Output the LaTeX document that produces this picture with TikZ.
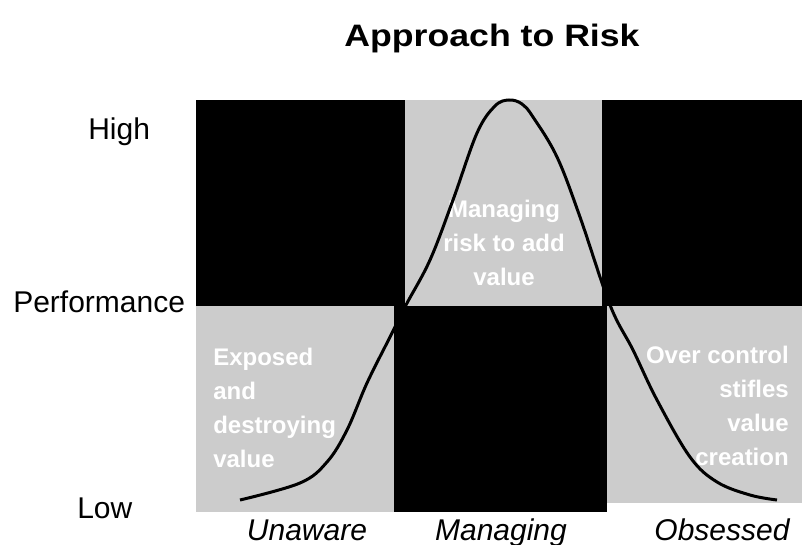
\documentclass[tikz,border=0pt]{standalone}
\usepackage{fontspec}
\setmainfont{Liberation Sans}
\usepackage{graphicx}
\usetikzlibrary{positioning}
\definecolor{cellgray}{RGB}{204,204,204}
\tikzset{blackbox/.style={
            fill=black
        },
        graybox/.style={
            fill=cellgray
        },
        celltext/.style={
            text=white,
            font=\fontsize{18}{25.5}\selectfont\bfseries,
            inner sep=0pt
        },
        axislabel/.style={
            font=\fontsize{22.5}{27}\selectfont,
            inner sep=0pt
        },
        phaselabel/.style={
            font=\fontsize{22.5}{27}\selectfont\itshape,
            inner sep=0pt
        },
        bell/.style={
            line width=2.25pt
        }
    }

\begin{document}
\begin{tikzpicture}[x=0.75pt,y=-0.75pt]
        \useasboundingbox (0,0) rectangle (802,545);
        % top row
        \fill[blackbox] (196,100) rectangle (405,306);
        \fill[graybox] (405,100) rectangle (602,306);
        \fill[blackbox] (602,100) rectangle (802,306);
        % bottom row
        \fill[graybox] (196,306) rectangle (394,512);
        \fill[blackbox] (394,306) rectangle (607,512);
        \fill[graybox] (607,306) rectangle (802,503);
        % title and axis
        \node[anchor=base, font=\fontsize{23.25}{28}\selectfont\bfseries, inner sep=0pt] (title) at (492,47) {\scalebox{1.15}[1]{Approach to Risk}};
        \node[axislabel, anchor=base west] (high) at (88,140) {High};
        \node[axislabel, anchor=base west] (perf) at (13,312) {Performance};
        \node[axislabel, anchor=base west] (low) at (77,518) {Low};
        \node[phaselabel, anchor=base] (unaware) at (307,540) {Unaware};
        \node[phaselabel, anchor=base] (managing) at (501,540) {Managing};
        \node[phaselabel, anchor=base] (obsessed) at (722,540) {Obsessed};
        % cell texts (base = last line)
        \node[celltext, align=center, anchor=base] (addvalue) at (504,285) {Managing\\risk to add\\value};
        \node[celltext, align=left, anchor=base west] (exposed) at (213,467) {Exposed\\and\\destroying\\value};
        \node[celltext, align=right, anchor=base east] (overcontrol) at (789,465) {Over control\\stifles\\value\\creation};
        % curve
        \draw[bell] plot[smooth, tension=0.6] coordinates {(240,500) (300,483) (327,462) (347,430) (367,383) (390,337) (406,305) (430,260) (453,200) (477,133) (495,106) (509,100) (522,104) (533,117) (557,157) (580,217) (610,305) (633,350) (657,400) (690,457) (717,482) (750,495) (777,500)};
\end{tikzpicture}
\end{document}
